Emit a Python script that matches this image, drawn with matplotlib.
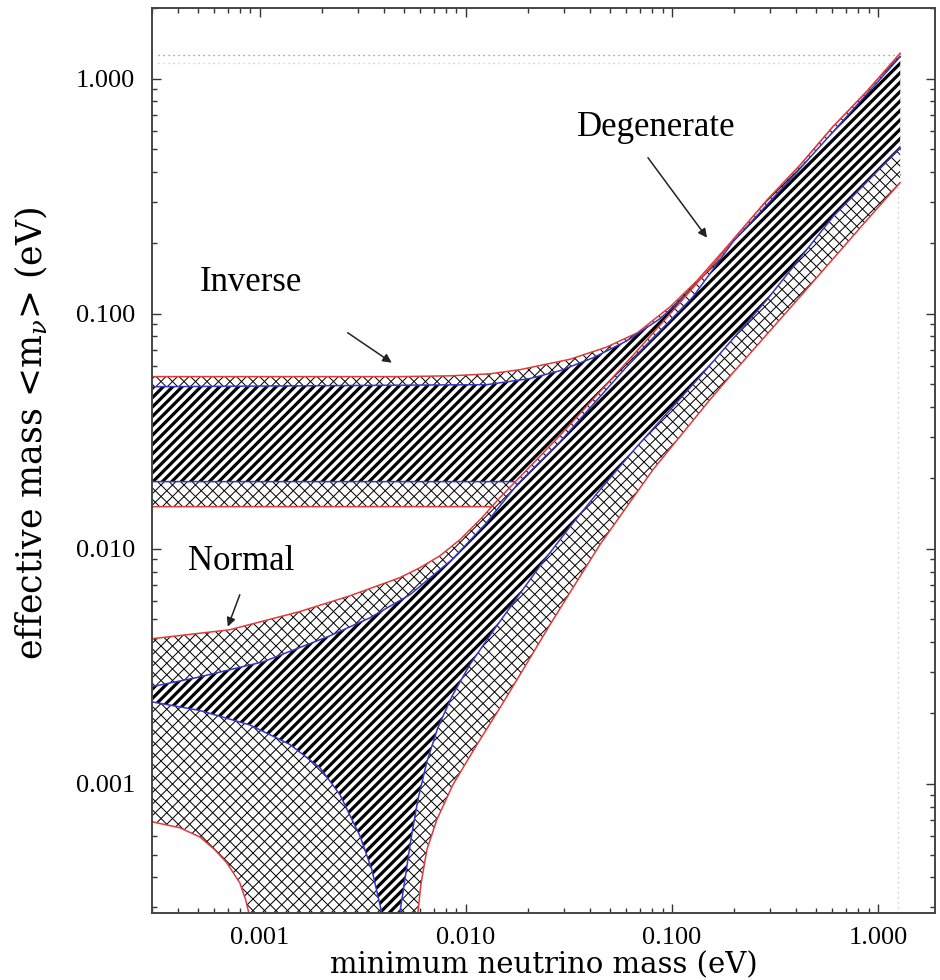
import numpy as np
import matplotlib
matplotlib.use("Agg")
import matplotlib.pyplot as plt
from matplotlib.collections import LineCollection
from matplotlib.transforms import IdentityTransform
from matplotlib.ticker import NullFormatter, LogLocator

# ---------------- data ----------------
# Inverted hierarchy, 3 sigma (red) and 1 sigma (blue) bounds
IH_TOP_RED_X = [0.0003, 0.00478, 0.00836, 0.01307, 0.0183, 0.032, 0.048, 0.068, 0.098, 0.132, 0.198, 0.29, 0.42, 0.60, 0.89, 1.28]
IH_TOP_RED_Y = [0.054, 0.054, 0.0544, 0.0555, 0.0578, 0.064, 0.072, 0.083, 0.107, 0.138, 0.2065, 0.305, 0.43, 0.62, 0.89, 1.28]
IH_TOP_BLUE_X = [0.0003, 0.01265, 0.0205, 0.0286, 0.0414, 0.0605, 0.0874, 0.1265, 0.198, 0.418, 0.885, 1.28]
IH_TOP_BLUE_Y = [0.0489, 0.0499, 0.0530, 0.0572, 0.0649, 0.0767, 0.0952, 0.1265, 0.2025, 0.414, 0.863, 1.24]
IH_BOT_RED_X = [0.0003, 0.02, 0.04, 0.07, 0.12, 0.25, 0.5, 1.28]
IH_BOT_RED_Y = [0.0151, 0.0151, 0.0178, 0.025, 0.039, 0.077, 0.152, 0.39]
IH_BOT_BLUE_X = [0.0003, 0.0179, 0.03, 0.06, 0.12, 0.25, 0.5, 1.28]
IH_BOT_BLUE_Y = [0.0193, 0.0193, 0.0215, 0.031, 0.052, 0.103, 0.2, 0.5]

# Normal hierarchy
NH_UP_RED_X = [0.0003, 0.000714, 0.00156, 0.00273, 0.00478, 0.00598, 0.00748, 0.00935, 0.0117, 0.01462, 0.0183, 0.0286, 0.0447, 0.0699, 0.1094, 0.171, 0.198, 0.29, 0.42, 0.60, 0.89, 1.28]
NH_UP_RED_Y = [0.00414, 0.00452, 0.0054, 0.0063, 0.00753, 0.0083, 0.00933, 0.01092, 0.01328, 0.01648, 0.0202, 0.0303, 0.0466, 0.0717, 0.1114, 0.175, 0.2065, 0.305, 0.43, 0.62, 0.89, 1.28]
NH_UP_BLUE_X = [0.0003, 0.000494, 0.001035, 0.00219, 0.00342, 0.00535, 0.00855, 0.01236, 0.01788, 0.0286, 0.0447, 0.070, 0.1265, 0.198, 0.418, 0.885, 1.28]
NH_UP_BLUE_Y = [0.00259, 0.00283, 0.0033, 0.00426, 0.00508, 0.00637, 0.00898, 0.01265, 0.0189, 0.0285, 0.0443, 0.0689, 0.118, 0.2025, 0.414, 0.863, 1.24]
NH_LOW_BLUE_L_X = [0.0003, 0.000512, 0.000894, 0.0014, 0.00196, 0.00245, 0.00306, 0.0035, 0.00391]
NH_LOW_BLUE_L_Y = [0.00223, 0.00205, 0.00178, 0.00147, 0.00117, 0.000898, 0.000601, 0.000431, 0.000282]
NH_LOW_BLUE_R_X = [0.00478, 0.00506, 0.00541, 0.00585, 0.00647, 0.00731, 0.00855, 0.01045, 0.01337, 0.0177, 0.0237, 0.032, 0.0447, 0.0676, 0.1368, 0.289, 0.605, 1.279]
NH_LOW_BLUE_R_Y = [0.000282, 0.00039, 0.000578, 0.000855, 0.00124, 0.00173, 0.00235, 0.00321, 0.00439, 0.00619, 0.00881, 0.0124, 0.0178, 0.0272, 0.054, 0.1147, 0.259, 0.508]
NH_LOW_RED_L_X = [0.0003, 0.000409, 0.000512, 0.000605, 0.000692, 0.0008, 0.000855, 0.000885]
NH_LOW_RED_L_Y = [0.000689, 0.00065, 0.000594, 0.000524, 0.000461, 0.000379, 0.00032, 0.000282]
NH_LOW_RED_R_X = [0.00585, 0.00605, 0.00647, 0.00723, 0.00865, 0.01106, 0.01462, 0.01933, 0.0256, 0.0338, 0.0447, 0.0809, 0.153, 0.198, 0.418, 0.885, 1.279]
NH_LOW_RED_R_Y = [0.000282, 0.000372, 0.000524, 0.000703, 0.00099, 0.00142, 0.0021, 0.00315, 0.00475, 0.00703, 0.0104, 0.0217, 0.0431, 0.0561, 0.118, 0.251, 0.361]

# limits marked with dotted lines
LIMIT_MASS_X = 1.25
LIMIT_MASS_Y = [1.265, 1.17]

XTICKS = [0.001, 0.01, 0.1, 1.0]
XTICK_LABELS = ["0.001", "0.010", "0.100", "1.000"]
YTICKS = [0.001, 0.01, 0.1, 1.0]
YTICK_LABELS = ["0.001", "0.010", "0.100", "1.000"]

XLIM = (0.0003, 1.89)
YLIM = (0.000282, 2.0)

RED = "#e2393b"
BLUE = "#3535c0"

# ---------------- figure ----------------
DPI = 100
plt.rcParams["mathtext.fontset"] = "dejavuserif"
fig = plt.figure(figsize=(9.4, 9.8), dpi=DPI)
ax = fig.add_axes([0.1617, 0.0684, 0.8330, 0.9235])
ax.set_xscale("log")
ax.set_yscale("log")
ax.set_xlim(*XLIM)
ax.set_ylim(*YLIM)
ax.set_axisbelow(True)

W = fig.get_figwidth() * DPI
H = fig.get_figheight() * DPI


def textured_region(xs, ys, z, kind):
    poly = ax.fill(xs, ys, facecolor="white", edgecolor="none", zorder=z)[0]
    if kind == "stripes":
        period, lw_px, slopes = 9.4, 3.2, [1]
    else:
        period, lw_px, slopes = 11.5, 1.0, [1, -1]
    segs = []
    for s in slopes:
        for c in np.arange(-W - H, W + H, period):
            segs.append([(0, c), (W, s * W + c)])
    lc = LineCollection(segs, colors="black", linewidths=lw_px * 72 / DPI,
                        transform=IdentityTransform(), zorder=z + 0.01)
    lc.set_clip_path(poly)
    ax.add_collection(lc, autolim=False)


def band(upper_x, upper_y, lower_parts):
    xs = list(upper_x)
    ys = list(upper_y)
    for px, py in lower_parts:
        xs += list(px)[::-1]
        ys += list(py)[::-1]
    return xs, ys


# Inverted hierarchy (drawn first)
xs, ys = band(IH_TOP_RED_X, IH_TOP_RED_Y, [(IH_BOT_RED_X, IH_BOT_RED_Y)])
textured_region(xs, ys, 1.0, "cross")
xs, ys = band(IH_TOP_BLUE_X, IH_TOP_BLUE_Y, [(IH_BOT_BLUE_X, IH_BOT_BLUE_Y)])
textured_region(xs, ys, 1.1, "stripes")
for (cx, cy, col) in [(IH_TOP_RED_X, IH_TOP_RED_Y, RED), (IH_BOT_RED_X, IH_BOT_RED_Y, RED),
                      (IH_TOP_BLUE_X, IH_TOP_BLUE_Y, BLUE), (IH_BOT_BLUE_X, IH_BOT_BLUE_Y, BLUE)]:
    ax.plot(cx, cy, color=col, lw=1.1, zorder=1.3)

# Normal hierarchy (on top)
xs, ys = band(NH_UP_RED_X, NH_UP_RED_Y, [(NH_LOW_RED_R_X, NH_LOW_RED_R_Y), (NH_LOW_RED_L_X, NH_LOW_RED_L_Y)])
textured_region(xs, ys, 2.0, "cross")
xs, ys = band(NH_UP_BLUE_X, NH_UP_BLUE_Y, [(NH_LOW_BLUE_R_X, NH_LOW_BLUE_R_Y), (NH_LOW_BLUE_L_X, NH_LOW_BLUE_L_Y)])
textured_region(xs, ys, 2.1, "stripes")
for (cx, cy, col) in [(NH_UP_RED_X, NH_UP_RED_Y, RED), (NH_LOW_RED_R_X, NH_LOW_RED_R_Y, RED),
                      (NH_LOW_RED_L_X, NH_LOW_RED_L_Y, RED),
                      (NH_UP_BLUE_X, NH_UP_BLUE_Y, BLUE), (NH_LOW_BLUE_R_X, NH_LOW_BLUE_R_Y, BLUE),
                      (NH_LOW_BLUE_L_X, NH_LOW_BLUE_L_Y, BLUE)]:
    ax.plot(cx, cy, color=col, lw=1.1, zorder=2.3)

# dotted limit lines
for i, yv in enumerate(LIMIT_MASS_Y):
    ax.plot([0.00032, LIMIT_MASS_X], [yv, yv], linestyle=(0, (1, 3)), color="#888888" if i == 0 else "#c8c8c8",
            lw=0.9, zorder=0.8)
ax.plot([LIMIT_MASS_X, LIMIT_MASS_X], [YLIM[0], LIMIT_MASS_Y[0]], linestyle=(0, (1, 3)), color="#c0c0c0",
        lw=0.9, zorder=0.8)

# ---------------- annotations ----------------
SERIF = ["Liberation Serif", "DejaVu Serif"]
ann_kw = dict(arrowprops=dict(arrowstyle="-|>", color="#222222", lw=1.1, mutation_scale=13,
                              shrinkA=0, shrinkB=0))
ax.annotate("", xy=(0.00437, 0.0619), xytext=(0.00267, 0.083), **ann_kw)
ax.text(0.000512, 0.136, "Inverse", fontsize=25, family=SERIF, ha="left", va="center", zorder=5)
ax.annotate("", xy=(0.00070, 0.00466), xytext=(0.0008, 0.00637), **ann_kw)
ax.text(0.000447, 0.0088, "Normal", fontsize=25, family=SERIF, ha="left", va="center", zorder=5)
ax.annotate("", xy=(0.148, 0.2105), xytext=(0.0765, 0.461), **ann_kw)
ax.text(0.0346, 0.62, "Degenerate", fontsize=25, family=SERIF, ha="left", va="center", zorder=5)

# ---------------- axes styling ----------------
ax.xaxis.set_major_locator(plt.FixedLocator(XTICKS))
ax.yaxis.set_major_locator(plt.FixedLocator(YTICKS))
ax.xaxis.set_major_formatter(plt.FixedFormatter(XTICK_LABELS))
ax.yaxis.set_major_formatter(plt.FixedFormatter(YTICK_LABELS))
ax.xaxis.set_minor_locator(LogLocator(base=10, subs=np.arange(2, 10)))
ax.yaxis.set_minor_locator(LogLocator(base=10, subs=np.arange(2, 10)))
ax.xaxis.set_minor_formatter(NullFormatter())
ax.yaxis.set_minor_formatter(NullFormatter())
ax.tick_params(which="both", direction="in", top=True, right=True, color="#333333", width=1.0)
ax.tick_params(which="major", length=6.5)
ax.tick_params(which="minor", length=3.6)
ax.tick_params(axis="x", which="major", pad=10, labelsize=19)
ax.tick_params(axis="y", which="major", pad=12, labelsize=19)
for lab in ax.get_xticklabels() + ax.get_yticklabels():
    lab.set_family(SERIF)
for sp in ax.spines.values():
    sp.set_color("#444444")
    sp.set_linewidth(1.4)
    sp.set_zorder(6)

ax.set_xlabel("minimum neutrino mass (eV)", fontsize=21, family=["DejaVu Serif"])
ax.xaxis.set_label_coords(0.5, -0.042)
ax.set_ylabel("effective mass <m$_{\\nu}$> (eV)", fontsize=25, family=["DejaVu Serif"])
ax.yaxis.set_label_coords(-0.13, 0.53)

fig.savefig("out.png", dpi=DPI)
